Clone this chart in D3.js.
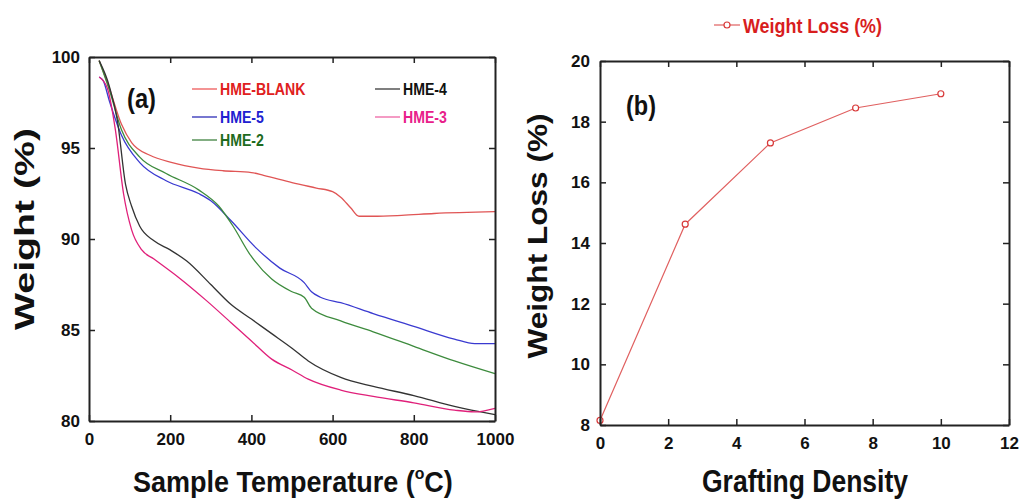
<!DOCTYPE html>
<html><head><meta charset="utf-8">
<script src="https://cdn.jsdelivr.net/npm/d3@7"></script>
<style>
body{margin:0;background:#fff;}
svg{display:block;}
text{font-family:"Liberation Sans",Arial,sans-serif;font-weight:bold;}
</style></head>
<body>
<svg id="c" width="1021" height="501"></svg>
<script>
// ---- Panel (a): TGA curves  [temperature °C, weight %]
const hmeBlank = [[25,99.8],[50,98.3],[80,96.3],[105,95.3],[150,94.6],[205,94.2],[270,93.9],[330,93.75],[400,93.65],[430,93.5],[500,93.1],[560,92.8],[600,92.6],[620,92.3],[645,91.7],[665,91.25],[700,91.25],[770,91.3],[850,91.4],[1000,91.5]];
const hme5 = [[25,98.9],[35,98.7],[50,97.6],[80,95.7],[125,94.2],[190,93.2],[270,92.5],[300,92.1],[350,91.0],[412,89.5],[470,88.4],[530,87.6],[548,87.1],[570,86.8],[620,86.5],[700,85.9],[800,85.2],[900,84.5],[950,84.25],[1000,84.25]];
const hme2 = [[25,99.8],[50,98.2],[80,96.0],[125,94.5],[190,93.6],[270,92.7],[320,91.8],[355,90.7],[395,89.2],[450,87.8],[500,87.1],[530,86.8],[548,86.2],[620,85.5],[700,84.9],[800,84.1],[900,83.3],[1000,82.6]];
const hme4 = [[25,99.8],[50,98.4],[70,96.5],[90,93.0],[105,91.8],[125,90.7],[160,89.9],[200,89.4],[240,88.8],[300,87.5],[350,86.4],[400,85.6],[450,84.8],[500,84.0],[540,83.3],[620,82.4],[700,81.9],[800,81.4],[900,80.8],[1000,80.35]];
const hme3 = [[25,98.9],[45,98.3],[65,96.0],[85,92.5],[105,90.5],[130,89.4],[160,88.9],[220,87.9],[290,86.6],[350,85.4],[400,84.4],[450,83.4],[500,82.8],[540,82.3],[620,81.7],[700,81.35],[800,81.0],[900,80.6],[950,80.5],[1000,80.7]];
const seriesNames = ["HME-BLANK","HME-5","HME-2","HME-4","HME-3"];
const xTicksA = [0,200,400,600,800,1000];
const yTicksA = [80,85,90,95,100];

// ---- Panel (b): weight loss vs grafting density
const graftingDensity = [0,2.5,5,7.5,10];
const weightLoss = [8.15,14.62,17.3,18.45,18.92];
const xTicksB = [0,2,4,6,8,10,12];
const yTicksB = [8,10,12,14,16,18,20];

const svg = d3.select("#c");
const axisCol = "#222";

function frame(x, y, xt, yt, padY){
  const [x0,x1] = x.range(), [y0,y1] = y.range();
  const g = svg.append("g");
  const styl = sel => { sel.select(".domain").attr("stroke",axisCol).attr("stroke-width",2);
    sel.selectAll(".tick line").attr("stroke",axisCol).attr("stroke-width",1.5);
    sel.selectAll("text").attr("font-size",17).attr("fill","#111")
      .attr("font-family","'Liberation Sans',Arial,sans-serif").attr("font-weight","bold"); };
  g.append("g").attr("transform",`translate(0,${y0})`)
    .call(d3.axisBottom(x).tickValues(xt).tickSize(-6).tickSizeOuter(0).tickPadding(12).tickFormat(d3.format("d"))).call(styl);
  g.append("g").attr("transform",`translate(0,${y1})`)
    .call(d3.axisTop(x).tickValues(xt).tickSize(-6).tickSizeOuter(0).tickFormat("")).call(styl);
  g.append("g").attr("transform",`translate(${x0},0)`)
    .call(d3.axisLeft(y).tickValues(yt).tickSize(-6).tickSizeOuter(0).tickPadding(padY).tickFormat(d3.format("d"))).call(styl);
  g.append("g").attr("transform",`translate(${x1},0)`)
    .call(d3.axisRight(y).tickValues(yt).tickSize(-6).tickSizeOuter(0).tickFormat("")).call(styl);
  return g;
}

// ===== Panel (a)
const xA = d3.scaleLinear().domain([0,1000]).range([89,495]);
const yA = d3.scaleLinear().domain([80,100]).range([421,57]);
const lineA = d3.line().x(d=>xA(d[0])).y(d=>yA(d[1])).curve(d3.curveMonotoneX);
const curveCols = ["#e05555","#3a3ad0","#3d8b3d","#333333","#e0207a"];
const legLineCols = ["#f07070","#4a4ac0","#5a935a","#555555","#f07ab0"];
const legTextCols = ["#e02020","#2020d0","#1e6b1e","#111111","#e8208a"];
const dataA = [hmeBlank,hme5,hme2,hme4,hme3];
svg.append("g").selectAll("path").data(dataA).join("path")
  .attr("d",lineA).attr("fill","none").attr("stroke",(d,i)=>curveCols[i]).attr("stroke-width",1.3);
frame(xA,yA,xTicksA,yTicksA,9);

// legend (a)
const legPos = [[192,89],[192,117],[192,140],[375,89],[375,117]];
seriesNames.forEach((n,i)=>{
  const [lx,ly] = legPos[i];
  svg.append("line").attr("x1",lx).attr("x2",lx+25).attr("y1",ly).attr("y2",ly)
    .attr("stroke",legLineCols[i]).attr("stroke-width",1.5);
  const t = svg.append("text").attr("x",lx+28).attr("y",ly+6).attr("font-size",17)
    .attr("fill",legTextCols[i]).text(n);
  const w = t.node().getComputedTextLength();
  t.attr("textLength",w*0.83).attr("lengthAdjust","spacingAndGlyphs");
});
svg.append("text").attr("x",127).attr("y",108).attr("font-size",27).attr("fill","#111")
  .attr("textLength",29).attr("lengthAdjust","spacingAndGlyphs").text("(a)");

const xt = svg.append("text").attr("x",133).attr("y",492).attr("font-size",29).attr("fill","#111");
xt.append("tspan").text("Sample Temperature (");
xt.append("tspan").attr("font-size",17).attr("dy",-13).text("o");
xt.append("tspan").attr("dy",13).text("C)");
const xtw = xt.node().getComputedTextLength();
xt.attr("transform",`translate(133,0) scale(${320/xtw},1) translate(-133,0)`);

svg.append("text").attr("transform","translate(34,229) rotate(-90)")
  .attr("font-family","'Open Sans',sans-serif").attr("font-size",27).attr("fill","#111")
  .attr("text-anchor","middle").attr("textLength",202).attr("lengthAdjust","spacingAndGlyphs")
  .text("Weight (%)");

// ===== Panel (b)
const xB = d3.scaleLinear().domain([0,12]).range([600,1009]);
const yB = d3.scaleLinear().domain([8,20]).range([425,61]);
const ptsB = graftingDensity.map((g,i)=>[g,weightLoss[i]]);
svg.append("path").datum(ptsB)
  .attr("d",d3.line().x(d=>xB(d[0])).y(d=>yB(d[1])))
  .attr("fill","none").attr("stroke","#e06060").attr("stroke-width",1.2);
svg.append("g").selectAll("circle").data(ptsB).join("circle")
  .attr("cx",d=>xB(d[0])).attr("cy",d=>yB(d[1])).attr("r",3)
  .attr("fill","#fff").attr("stroke","#d83a3a").attr("stroke-width",1.2);
frame(xB,yB,xTicksB,yTicksB,10);

svg.append("text").attr("x",626).attr("y",115).attr("font-size",27).attr("fill","#111")
  .attr("textLength",30).attr("lengthAdjust","spacingAndGlyphs").text("(b)");
svg.append("text").attr("x",805).attr("y",492).attr("font-size",31).attr("fill","#111")
  .attr("text-anchor","middle").attr("textLength",206).attr("lengthAdjust","spacingAndGlyphs")
  .text("Grafting Density");
svg.append("text").attr("transform","translate(547,236) rotate(-90)")
  .attr("font-size",27).attr("fill","#111")
  .attr("text-anchor","middle").attr("textLength",245).attr("lengthAdjust","spacingAndGlyphs")
  .text("Weight Loss (%)");

// legend (b)
svg.append("line").attr("x1",714).attr("x2",740).attr("y1",25).attr("y2",25)
  .attr("stroke","#e06060").attr("stroke-width",1.2);
svg.append("circle").attr("cx",727).attr("cy",25).attr("r",3)
  .attr("fill","#fff").attr("stroke","#d83a3a").attr("stroke-width",1.2);
svg.append("text").attr("x",743).attr("y",33).attr("font-size",20).attr("fill","#d81e1e")
  .attr("textLength",139).attr("lengthAdjust","spacingAndGlyphs").text("Weight Loss (%)");
</script>
</body></html>
